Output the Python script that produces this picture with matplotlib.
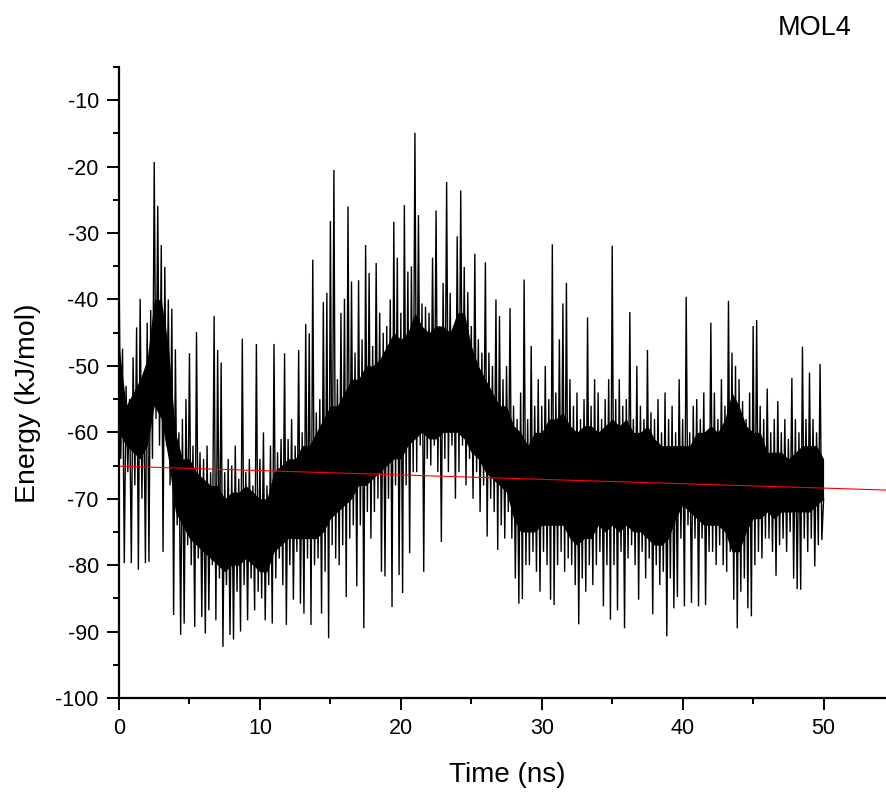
import numpy as np
import matplotlib
matplotlib.use("Agg")
import matplotlib.pyplot as plt
from matplotlib.ticker import MultipleLocator

plt.rcParams["font.family"] = ["Liberation Sans", "DejaVu Sans"]
plt.rcParams["axes.unicode_minus"] = False

# Interaction energy trace, sampled every 0.125 ns (8 samples per row = 1 ns)
sample_step_ns = 0.125

energy_00_10 = [
    -35.0, -64.0, -47.4, -79.7, -53.0, -66.0, -55.0, -79.7,
    -48.7, -68.0, -44.2, -80.7, -39.9, -70.0, -52.0, -79.7,
    -43.5, -79.5, -41.6, -64.0, -19.3, -58.0, -25.9, -62.0,
    -31.8, -78.0, -35.1, -62.0, -40.0, -68.0, -41.4, -87.5,
    -47.5, -74.0, -60.0, -90.5, -58.0, -88.8, -55.0, -77.0,
    -48.1, -80.0, -62.0, -89.3, -44.9, -79.0, -63.0, -87.8,
    -64.0, -90.3, -62.0, -86.8, -66.0, -80.0, -42.5, -88.3,
    -47.6, -82.0, -49.5, -92.3, -66.0, -83.0, -64.0, -90.5,
    -65.0, -91.2, -62.0, -84.0, -67.0, -90.0, -45.9, -83.0,
    -66.0, -88.3, -64.0, -82.0, -68.0, -86.8, -46.7, -84.0,
]

energy_10_20 = [
    -64.0, -85.0, -60.0, -88.3, -68.0, -83.0, -62.0, -88.8,
    -46.7, -82.0, -63.0, -79.0, -61.0, -83.0, -48.1, -89.0,
    -61.0, -80.0, -58.0, -85.2, -62.0, -78.0, -47.6, -85.8,
    -60.0, -87.3, -43.7, -79.0, -45.1, -89.0, -34.0, -80.0,
    -57.0, -79.0, -55.0, -87.3, -40.4, -81.0, -39.0, -91.0,
    -28.2, -77.0, -20.5, -79.0, -52.0, -80.0, -42.0, -77.0,
    -39.9, -84.8, -26.0, -76.0, -37.3, -74.0, -48.0, -83.2,
    -37.1, -74.0, -46.0, -89.5, -31.8, -72.0, -36.0, -76.0,
    -47.0, -72.0, -34.5, -70.0, -42.0, -81.0, -45.0, -81.7,
    -44.0, -70.0, -40.0, -86.3, -28.3, -68.0, -33.7, -81.5,
]

energy_20_30 = [
    -42.0, -84.2, -25.8, -68.0, -35.8, -78.2, -35.0, -66.0,
    -14.9, -66.0, -27.3, -62.0, -40.6, -81.0, -41.1, -64.0,
    -42.0, -65.0, -33.7, -62.0, -26.6, -66.0, -44.0, -76.5,
    -37.5, -64.0, -22.3, -66.0, -39.0, -62.0, -44.0, -70.0,
    -30.5, -66.0, -23.6, -62.0, -35.1, -68.0, -38.9, -64.0,
    -44.0, -70.0, -33.1, -66.0, -46.0, -72.0, -48.0, -68.0,
    -34.4, -75.7, -48.0, -70.0, -50.0, -72.0, -40.0, -77.7,
    -42.5, -74.0, -52.0, -76.0, -50.0, -72.0, -41.3, -76.0,
    -56.0, -82.0, -58.0, -85.8, -54.0, -85.1, -37.0, -80.0,
    -58.0, -80.0, -47.0, -78.0, -56.0, -81.0, -52.0, -84.0,
]

energy_30_40 = [
    -56.0, -78.0, -50.0, -80.0, -55.0, -85.2, -31.7, -86.0,
    -54.0, -80.0, -46.0, -78.0, -40.6, -81.0, -37.5, -79.0,
    -52.0, -80.0, -56.0, -83.0, -54.0, -88.9, -58.0, -82.0,
    -55.0, -84.0, -42.7, -80.0, -56.0, -83.0, -52.0, -80.0,
    -54.0, -78.0, -58.0, -86.2, -55.0, -80.0, -52.0, -88.2,
    -31.9, -80.0, -55.0, -86.8, -52.0, -78.0, -56.0, -89.5,
    -55.0, -79.0, -41.9, -77.0, -58.0, -80.0, -50.0, -85.2,
    -56.0, -78.0, -58.0, -82.0, -47.6, -79.0, -57.0, -87.4,
    -58.0, -80.0, -55.0, -83.0, -60.0, -81.0, -54.0, -90.7,
    -58.0, -82.0, -56.0, -86.5, -60.0, -84.8, -52.0, -76.0,
]

energy_40_50 = [
    -58.0, -86.2, -39.6, -74.0, -60.0, -85.7, -56.0, -76.0,
    -55.0, -86.2, -58.0, -76.0, -54.0, -86.0, -60.0, -78.0,
    -43.5, -78.0, -54.0, -80.0, -58.0, -77.0, -52.0, -80.0,
    -56.0, -81.0, -40.2, -78.0, -48.0, -85.2, -50.0, -89.5,
    -52.0, -84.0, -55.3, -82.0, -58.0, -86.5, -54.0, -87.7,
    -44.0, -80.0, -43.1, -78.0, -56.0, -79.0, -58.0, -76.0,
    -53.4, -76.0, -60.0, -78.0, -58.0, -81.6, -55.3, -77.0,
    -60.0, -76.0, -58.0, -78.0, -61.0, -75.0, -51.8, -82.0,
    -58.0, -83.6, -60.0, -83.7, -47.1, -76.0, -58.0, -78.0,
    -51.0, -76.0, -58.0, -80.2, -60.0, -77.0, -49.7, -76.2,
    -70.0,
]

# Solid core of the fluctuations, every 0.5 ns (10 values per row = 5 ns)
core_step_ns = 0.5
core_top = [
    -47, -56, -54, -52, -49, -40, -40, -47, -60, -64,
    -64, -66, -67, -68, -68, -70, -69, -69, -68, -69,
    -70, -70, -66, -65, -64, -64, -62, -62, -60, -58,
    -56, -56, -54, -52, -52, -50, -50, -49, -47, -45,
    -46, -45, -42, -44, -45, -44, -44, -45, -42, -42,
    -47, -50, -52, -54, -56, -56, -59, -60, -62, -60,
    -60, -58, -58, -57, -59, -60, -59, -59, -60, -59,
    -58, -59, -58, -60, -60, -59, -61, -62, -62, -62,
    -62, -62, -60, -60, -59, -60, -58, -54, -56, -59,
    -60, -60, -63, -63, -63, -64, -63, -62, -62, -62,
    -64,
]
core_bottom = [
    -60, -62, -63, -64, -62, -56, -58, -64, -72, -74,
    -76, -77, -78, -79, -80, -81, -80, -80, -79, -80,
    -81, -81, -78, -77, -76, -76, -76, -76, -76, -75,
    -73, -72, -71, -70, -68, -68, -67, -66, -65, -64,
    -64, -62, -61, -60, -61, -61, -60, -60, -60, -61,
    -63, -64, -66, -67, -68, -69, -73, -75, -75, -75,
    -74, -74, -74, -74, -76, -77, -76, -76, -74, -75,
    -74, -75, -74, -75, -75, -76, -77, -77, -76, -73,
    -71, -72, -73, -74, -74, -74, -75, -78, -78, -75,
    -73, -73, -72, -73, -72, -72, -72, -72, -72, -71,
    -70,
]

# Linear trend of the trace
fit_intercept = -65.1
fit_slope = -0.066  # kJ/mol per ns

x_ticks = [0, 10, 20, 30, 40, 50]
y_ticks = [-100, -90, -80, -70, -60, -50, -40, -30, -20, -10]
x_range = (0, 54.5)
y_range = (-100, -5)

energy = np.array(energy_00_10 + energy_10_20 + energy_20_30
                  + energy_30_40 + energy_40_50)
time_ns = np.arange(len(energy)) * sample_step_ns
core_time = np.arange(len(core_top)) * core_step_ns

fig = plt.figure(figsize=(8.87, 7.94), dpi=100)
ax = fig.add_axes([119 / 887, 1 - 698 / 794, 1 - 119 / 887, (698 - 67) / 794])

ax.fill_between(core_time, core_bottom, core_top, color="black", lw=0)
ax.plot(time_ns, energy, color="black", lw=1.0, solid_joinstyle="miter")
fit_x = np.array(x_range)
ax.plot(fit_x, fit_intercept + fit_slope * fit_x, color="red", lw=0.8)

ax.set_xlim(*x_range)
ax.set_ylim(*y_range)
ax.set_xticks(x_ticks)
ax.set_yticks(y_ticks)
ax.xaxis.set_minor_locator(MultipleLocator(5))
ax.yaxis.set_minor_locator(MultipleLocator(5))

for side in ("top", "right"):
    ax.spines[side].set_visible(False)
for side in ("left", "bottom"):
    ax.spines[side].set_linewidth(1.6)

ax.tick_params(which="major", direction="out", length=8.5, width=1.4,
               labelsize=15.5, pad=6)
ax.tick_params(which="minor", direction="out", length=4.5, width=1.4)

ax.set_xlabel("Time (ns)", fontsize=20, va="center")
ax.xaxis.set_label_coords(0.505, -0.122)
ax.set_ylabel("Energy (kJ/mol)", fontsize=20.5, va="center")
ax.yaxis.set_label_coords(-0.1185, 0.4675)

fig.text(815 / 887, 1 - 28 / 794, "MOL4", fontsize=19.5, ha="center", va="center")

fig.savefig("out.png", dpi=100)
